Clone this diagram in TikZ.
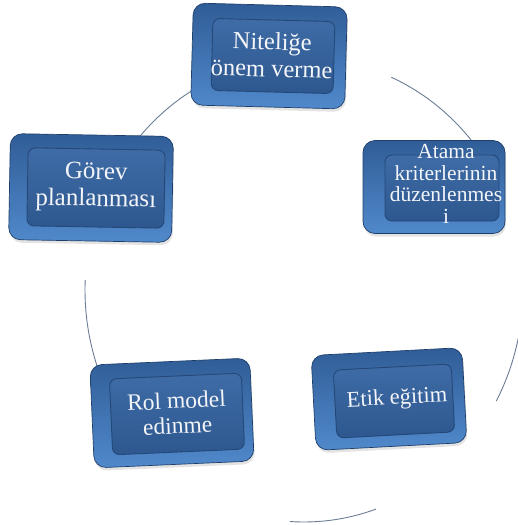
\documentclass[tikz,border=0pt]{standalone}
\usepackage{fontspec}
\setmainfont{Liberation Serif}
\usetikzlibrary{shadows,calc}
\definecolor{bevtop}{HTML}{305D97}
\definecolor{bevbot}{HTML}{5089CB}
\definecolor{bevline}{HTML}{1F3F6B}
\definecolor{facetop}{HTML}{3F6CA7}
\definecolor{facebot}{HTML}{2D578E}
\definecolor{faceline}{HTML}{244878}
\definecolor{txt}{HTML}{F3F5F8}
\definecolor{ringc}{HTML}{6B7C96}
\begin{document}
\begin{tikzpicture}[x=1pt,y=-1pt,
  bev/.style={rounded corners=12pt, top color=bevtop, bottom color=bevbot, draw=bevline, line width=0.7pt, inner sep=0pt,
    drop shadow={opacity=0.22, shadow xshift=1pt, shadow yshift=-3pt}},
  face/.style={rounded corners=7pt, top color=facetop, bottom color=facebot, draw=faceline, line width=0.9pt, inner sep=0pt},
  lbl/.style={font=\fontsize{23}{27}\selectfont, text=txt, align=center, inner sep=0pt},
  ring/.style={draw=ringc, line width=0.9pt}]
\useasboundingbox (0,0) rectangle (517,525);
\coordinate (oc) at (304,290);
% ring segments
\coordinate (a1) at ($(oc)+(218:219 and 232)$);
\coordinate (a2) at ($(oc)+(-66.5:219 and 232)$);
\coordinate (a3) at ($(oc)+(12:219 and 232)$);
\coordinate (a4) at ($(oc)+(70.8:219 and 232)$);
\coordinate (a5) at ($(oc)+(157:219 and 232)$);
\draw[ring] (a1) arc[start angle=218, end angle=245, x radius=219, y radius=232];
\draw[ring] (a2) arc[start angle=-66.5, end angle=-35, x radius=219, y radius=232];
\draw[ring] (a3) arc[start angle=12, end angle=28.6, x radius=219, y radius=232];
\draw[ring] (a4) arc[start angle=70.8, end angle=93.7, x radius=219, y radius=232];
\draw[ring] (a5) arc[start angle=157, end angle=182.5, x radius=219, y radius=232];
% box 1
\node[bev, rotate=-1.5, minimum width=154pt, minimum height=102pt] (b1) at (269,56) {};
\node[face, rotate=-1.5, minimum width=122pt, minimum height=72pt] (f1) at (273,56) {};
\node[lbl, rotate=-1.5, font=\fontsize{24.5}{27}\selectfont] (t1) at (272,55) {Niteliğe\\önem verme};
% box 2
\node[bev, minimum width=142pt, minimum height=93pt] (b2) at (434,187) {};
\node[face, minimum width=114pt, minimum height=66pt] (f2) at (442,188) {};
\node[lbl, font=\fontsize{21.5}{21.5}\selectfont] (t2) at (446,184) {Atama\\kriterlerinin\\düzenlenmes\\i};
% box 3
\node[bev, rotate=-1, minimum width=163pt, minimum height=106pt] (b3) at (91,188) {};
\node[face, rotate=-1, minimum width=137pt, minimum height=78pt] (f3) at (96,188) {};
\node[lbl, rotate=-1, font=\fontsize{25}{27}\selectfont] (t3) at (96,187) {Görev\\planlanması};
% box 4
\node[bev, rotate=2.5, minimum width=160pt, minimum height=103pt] (b4) at (172,413) {};
\node[face, rotate=2.5, minimum width=132pt, minimum height=76pt] (f4) at (177,414) {};
\node[lbl, rotate=2.5, font=\fontsize{23.5}{25}\selectfont] (t4) at (177,413) {Rol model\\edinme};
% box 5
\node[bev, rotate=3, minimum width=151pt, minimum height=95pt] (b5) at (389,399) {};
\node[face, rotate=3, minimum width=118pt, minimum height=68pt] (f5) at (394,401) {};
\node[lbl, rotate=3, font=\fontsize{22.5}{27}\selectfont] (t5) at (397,399) {Etik eğitim};
\end{tikzpicture}
\end{document}
